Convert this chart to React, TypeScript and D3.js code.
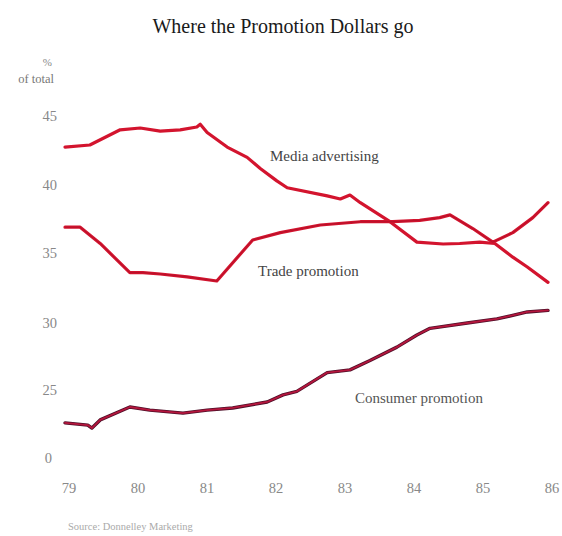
import React from "react";
import * as d3 from "d3";

const title = "Where the Promotion Dollars go";
const yTicks = [0, 25, 30, 35, 40, 45];
const xTicks = [79, 80, 81, 82, 83, 84, 85, 86];

const mediaYears = [79.0, 79.36, 79.8, 80.09, 80.38, 80.67, 80.91, 80.96, 81.06, 81.35, 81.64, 81.83, 82.07, 82.22, 82.8, 82.99, 83.13, 83.28, 83.71, 84.1, 84.48, 84.72, 85.01, 85.23, 85.49, 85.7, 86.0];
const mediaValues = [42.75, 42.9, 44.0, 44.13, 43.9, 44.0, 44.2, 44.4, 43.8, 42.75, 42.0, 41.2, 40.3, 39.8, 39.2, 38.97, 39.26, 38.7, 37.3, 35.8, 35.66, 35.7, 35.8, 35.7, 34.7, 34.0, 32.9];

const tradeYears = [79.0, 79.22, 79.51, 79.94, 80.13, 80.38, 80.77, 81.2, 81.72, 82.12, 82.7, 83.28, 83.75, 84.14, 84.43, 84.58, 84.91, 85.2, 85.49, 85.78, 86.0];
const tradeValues = [36.9, 36.9, 35.7, 33.6, 33.6, 33.5, 33.3, 33.0, 35.96, 36.5, 37.06, 37.3, 37.3, 37.4, 37.6, 37.8, 36.8, 35.8, 36.5, 37.6, 38.7];

const consumerYears = [79.0, 79.33, 79.39, 79.51, 79.94, 80.23, 80.71, 81.06, 81.43, 81.93, 82.16, 82.36, 82.8, 83.13, 83.42, 83.81, 84.1, 84.29, 84.83, 85.26, 85.7, 86.0];
const consumerValues = [12.9, 12.1, 11.0, 14.0, 18.75, 17.6, 16.5, 17.6, 18.4, 20.6, 23.2, 24.5, 26.3, 26.5, 27.2, 28.2, 29.1, 29.6, 30.0, 30.29, 30.79, 30.9];

const seriesLabels = ["Media advertising", "Trade promotion", "Consumer promotion"];
const source = "Source: Donnelley Marketing";

export default function App() {
  const W = 562, H = 536;
  const x = d3.scaleLinear().domain([79, 86]).range([65, 548]);
  const y = d3.scaleLinear().domain(yTicks).range([458, 390, 323, 253, 185, 116]);
  const line = d3.line<[number, number]>().x(d => x(d[0])).y(d => y(d[1])).curve(d3.curveLinear);
  const zip = (a: number[], b: number[]) => a.map((v, i) => [v, b[i]] as [number, number]);
  const media = line(zip(mediaYears, mediaValues)) || "";
  const trade = line(zip(tradeYears, tradeValues)) || "";
  const consumer = line(zip(consumerYears, consumerValues)) || "";
  const serif = "'Liberation Serif', 'DejaVu Serif', serif";
  return (
    <svg width={W} height={H} style={{ position: "absolute", left: 0, top: 0, background: "#fff" }}>
      <text x={283} y={33} textAnchor="middle" fontFamily={serif} fontSize={20} fill="#1a1a1a">{title}</text>
      <text x={52} y={66} textAnchor="end" fontFamily={serif} fontSize={11} fill="#888">%</text>
      <text x={54} y={83} textAnchor="end" fontFamily={serif} fontSize={12.5} fill="#777">of total</text>
      {yTicks.map(t => (
        <text key={t} x={t === 0 ? 52 : 57} y={y(t) + 5} textAnchor="end" fontFamily={serif} fontSize={14.5} fill="#888">{t}</text>
      ))}
      {xTicks.map(t => (
        <text key={t} x={x(t) + 4} y={493} textAnchor="middle" fontFamily={serif} fontSize={14.5} fill="#888">{t}</text>
      ))}
      <path d={media} fill="none" stroke="#d3142e" strokeWidth={3.2} strokeLinejoin="round" strokeLinecap="round" />
      <path d={trade} fill="none" stroke="#d3142e" strokeWidth={3.2} strokeLinejoin="round" strokeLinecap="round" />
      <path d={trade} fill="none" stroke="#b00f28" strokeWidth={0.8} strokeLinejoin="round" />
      <path d={consumer} fill="none" stroke="#4e0f28" strokeWidth={3.4} strokeLinejoin="round" strokeLinecap="round" />
      <path d={consumer} fill="none" stroke="#b5163d" strokeWidth={1.8} strokeLinejoin="round" strokeLinecap="round" />
      <text x={270} y={161} fontFamily={serif} fontSize={15} fill="#444">{seriesLabels[0]}</text>
      <text x={258} y={276} fontFamily={serif} fontSize={15} fill="#444">{seriesLabels[1]}</text>
      <text x={355} y={403} fontFamily={serif} fontSize={15} fill="#555">{seriesLabels[2]}</text>
      <text x={68} y={530} fontFamily={serif} fontSize={10.5} fill="#aaa">{source}</text>
    </svg>
  );
}
